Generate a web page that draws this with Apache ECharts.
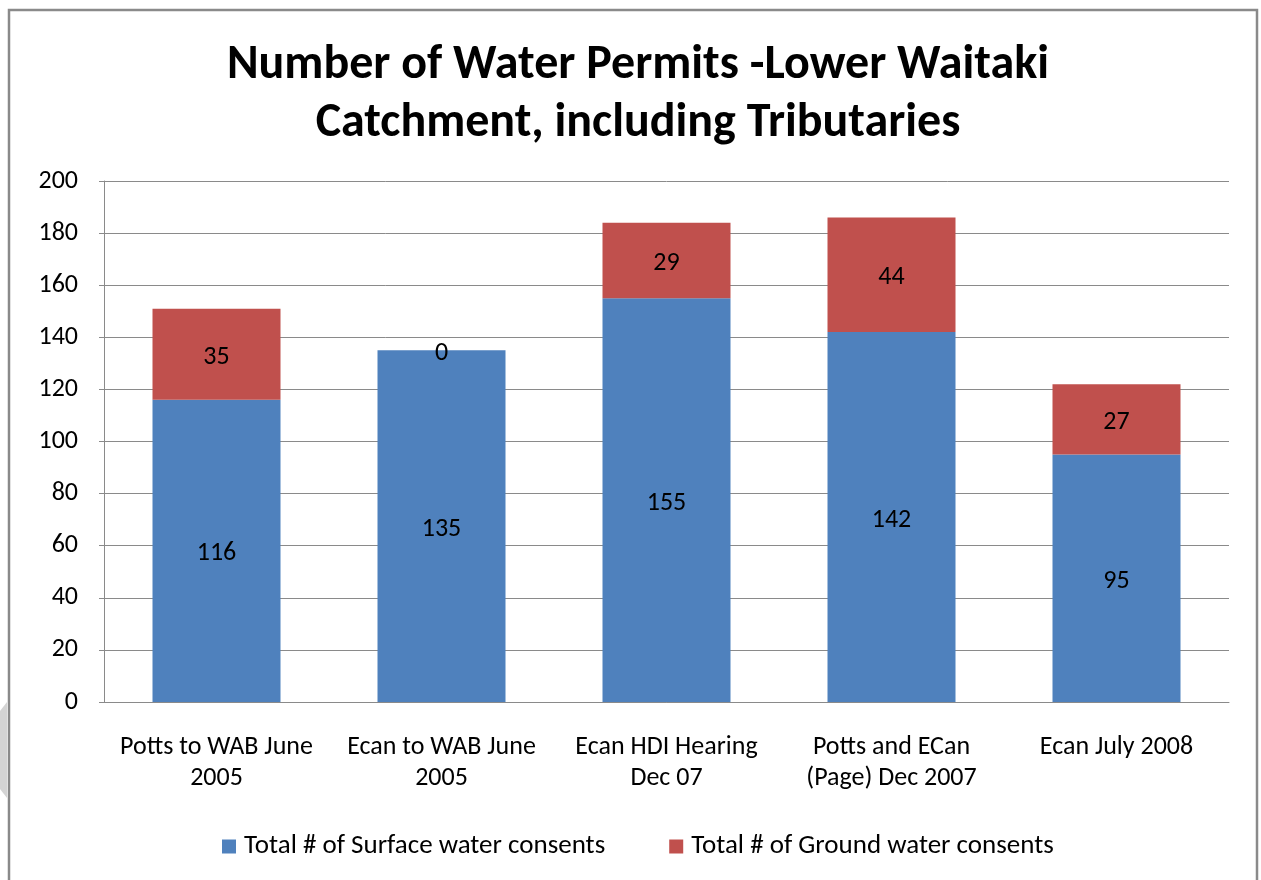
<!DOCTYPE html>
<html><head><meta charset="utf-8">
<script src="https://cdn.jsdelivr.net/npm/echarts@6/dist/echarts.min.js"></script>
<style>html,body{margin:0;padding:0;background:#fff;}#c{width:1261px;height:880px;}</style>
</head><body><div id="c"></div>
<script>
const categories = ['Potts to WAB June\n2005', 'Ecan to WAB June\n2005', 'Ecan HDI Hearing\nDec 07', 'Potts and ECan\n(Page) Dec 2007', 'Ecan July 2008'];
const surfaceValues = [116, 135, 155, 142, 95];
const groundValues = [35, 0, 29, 44, 27];
const yTicks = {min: 0, max: 200, interval: 20};
const seriesNames = ['Total # of Surface water consents', 'Total # of Ground water consents'];

const font = 'Carlito, "Open Sans", "Noto Sans", sans-serif';
const fs = 26;
const chart = echarts.init(document.getElementById('c'), null, {renderer: 'canvas'});
chart.setOption({
  backgroundColor: '#fff',
  animation: false,
  title: {
    text: 'Number of Water Permits -Lower Waitaki\nCatchment, including Tributaries',
    left: 633, textAlign: 'center', top: 32,
    textStyle: {fontFamily: font, fontWeight: 'bold', fontSize: 48, lineHeight: 58, color: '#000'}
  },
  graphic: [
    {type: 'polygon', shape: {points: [[0, 711], [7, 702], [7, 798], [0, 789]]},
     style: {fill: '#d4d4d4'}, silent: true},
    {type: 'rect', shape: {x: 9, y: 10, width: 1248, height: 900},
     style: {fill: 'none', stroke: '#8a8a8a', lineWidth: 2.5}, silent: true}
  ],
  legend: {
    bottom: 15, left: 217, itemGap: 64, itemWidth: 14, itemHeight: 14,
    icon: 'rect',
    textStyle: {fontFamily: font, fontSize: 27, color: '#000', padding: [0, 0, 0, 3]},
    data: seriesNames
  },
  grid: {left: 104, right: 32, top: 181, bottom: 178, containLabel: false},
  xAxis: {
    type: 'category', data: categories,
    axisLine: {lineStyle: {color: '#8a8a8a'}},
    axisTick: {show: false},
    axisLabel: {fontFamily: font, fontSize: fs, color: '#000', lineHeight: 31, margin: 30, interval: 0}
  },
  yAxis: {
    type: 'value', min: yTicks.min, max: yTicks.max, interval: yTicks.interval,
    axisLine: {show: true, lineStyle: {color: '#8a8a8a'}},
    axisTick: {show: true, length: 5, lineStyle: {color: '#8a8a8a'}},
    splitLine: {lineStyle: {color: '#8a8a8a'}},
    axisLabel: {fontFamily: font, fontSize: fs, color: '#000', margin: 26}
  },
  series: [
    {name: seriesNames[0], type: 'bar', stack: 'a', data: surfaceValues, barWidth: 128,
     itemStyle: {color: '#4F81BD'},
     label: {show: true, position: 'inside', offset: [0, 3], fontFamily: font, fontSize: fs, color: '#000'}},
    {name: seriesNames[1], type: 'bar', stack: 'a', data: groundValues, barWidth: 128,
     itemStyle: {color: '#C0504D'},
     label: {show: true, position: 'inside', offset: [0, 3], fontFamily: font, fontSize: fs, color: '#000'}}
  ]
});
</script></body></html>
